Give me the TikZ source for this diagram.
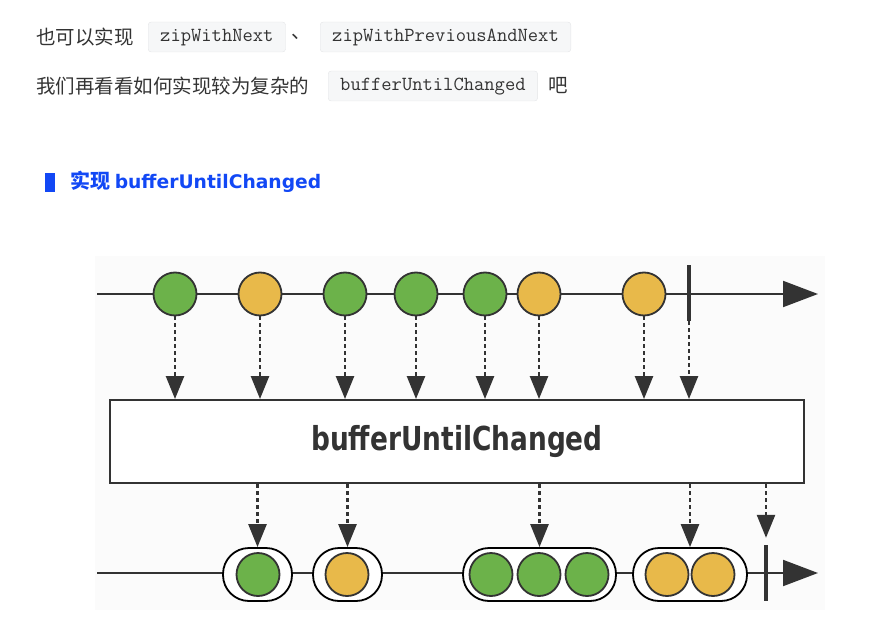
\documentclass[tikz,border=0pt]{standalone}
\usepackage{fontspec}
\setmainfont{Noto Sans CJK SC}
\newfontfamily\latinsans{DejaVu Sans}
\newfontfamily\opfont[FakeStretch=0.8]{DejaVu Sans}
\usepackage{xcolor}
\usetikzlibrary{arrows.meta,positioning}

\definecolor{marblegreen}{RGB}{108,178,74}
\definecolor{marbleyellow}{RGB}{232,185,74}
\definecolor{inkgray}{RGB}{51,51,51}
\definecolor{codebg}{RGB}{246,247,248}
\definecolor{codeline}{RGB}{228,229,231}
\definecolor{headblue}{RGB}{18,72,245}
\definecolor{diagbg}{RGB}{251,251,251}

\begin{document}
\begin{tikzpicture}[
  x=1pt,y=-1pt,
  font=\fontsize{19.5}{23}\selectfont,
  txt/.style={anchor=west,inner sep=0pt,text=inkgray},
  code/.style={anchor=west,draw=codeline,fill=codebg,rounded corners=3pt,
    inner xsep=12pt,inner ysep=0pt,minimum height=30pt,text height=14pt,text depth=4pt,
    text=inkgray,font=\fontsize{20}{22}\ttfamily},
  marble/.style={circle,draw=inkgray,line width=1.8pt,minimum size=43pt,inner sep=0pt},
  group/.style={draw=black,line width=1.8pt,fill=white,rounded corners=26pt,
    minimum height=53pt,inner sep=0pt},
  endbar/.style={fill=inkgray,minimum width=4pt,minimum height=56pt,inner sep=0pt},
  axis/.style={line width=2pt,draw=inkgray,-{Triangle[length=35pt,width=26pt]}},
  emit/.style={line width=2.6pt,draw=inkgray,dash pattern=on 4pt off 3pt,
    -{Triangle[length=23pt,width=18pt]}}
]
\useasboundingbox (0,0) rectangle (891,639);

% text above the diagram
\node[txt] (l1) at (36,37) {也可以实现};
\node[code] (c1) at (148,37) {zipWithNext};
\node[txt] (sep) at (291,37) {、};
\node[code] (c2) at (320,37) {zipWithPreviousAndNext};
\node[txt] (l2) at (36,86) {我们再看看如何实现较为复杂的};
\node[code] (c3) at (328,86) {bufferUntilChanged};
\node[txt] (l2b) at (548,86) {吧};

\node[fill=headblue,minimum width=10pt,minimum height=19pt,inner sep=0pt] (mark) at (50,182.5) {};
\node[anchor=west,inner sep=0pt,text=headblue,font=\fontsize{20}{24}\selectfont\bfseries]
  (head) at (70,182) {实现 {\latinsans\bfseries\fontsize{18.7}{24}\selectfont bufferUntilChanged}};

% marble diagram
\fill[diagbg] (95,256) rectangle (825,610);

\coordinate (tin) at (97,294);
\coordinate (tout) at (818,294);
\draw[axis] (tin) -- (tout);
\foreach \n/\x/\c in {1/175/marblegreen,2/260/marbleyellow,3/345/marblegreen,4/416/marblegreen,
  5/485/marblegreen,6/539/marbleyellow,7/644/marbleyellow}{
  \node[marble,fill=\c] (t\n) at (\x,294) {};
}
\node[endbar] (tend) at (689,293) {};

\node[draw=inkgray,line width=2pt,fill=white,minimum width=694pt,minimum height=83pt,inner sep=0pt,
  text=inkgray,font=\opfont\bfseries\fontsize{33}{36}\selectfont] (op) at (457,441.5) {bufferUntilChanged};

\foreach \n in {1,...,7}{
  \draw[emit] (t\n.south) -- (t\n.south |- op.north);
}
\draw[emit] (tend.south) -- (tend.south |- op.north);

\coordinate (bin) at (97,573);
\coordinate (bout) at (818,573);
\draw[axis] (bin) -- (bout);

\node[group,minimum width=69pt] (g1) at (257.5,574.5) {};
\node[group,minimum width=69pt] (g2) at (347.5,574.5) {};
\node[group,minimum width=153pt] (g3) at (539.5,574.5) {};
\node[group,minimum width=114pt] (g4) at (690,574.5) {};
\foreach \n/\x/\c in {1/258/marblegreen,2/347/marbleyellow,3/491/marblegreen,4/539/marblegreen,
  5/587/marblegreen,6/667/marbleyellow,7/713/marbleyellow}{
  \node[marble,fill=\c] (b\n) at (\x,574.5) {};
}
\node[endbar] (bend) at (766,573) {};

\foreach \g in {g1,g2,g3,g4}{
  \draw[emit] (op.south -| \g.north) -- (\g.north);
}
\draw[emit,shorten >=7pt] (op.south -| bend.north) -- (bend.north);
\end{tikzpicture}
\end{document}
